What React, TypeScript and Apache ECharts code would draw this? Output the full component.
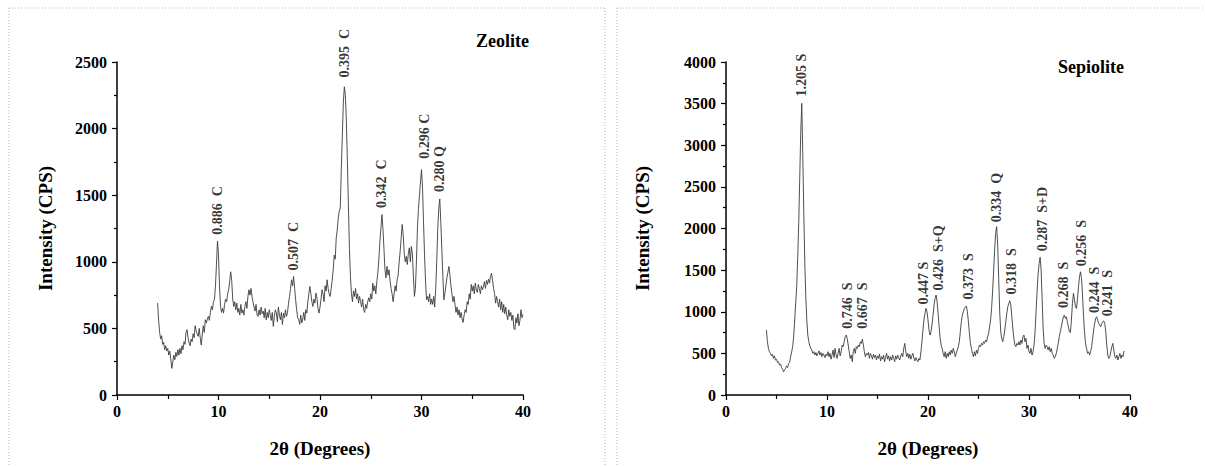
import React, { useEffect, useRef } from "react";
import * as echarts from "echarts";

// 2θ sampling grid (degrees)
const ZEOLITE_START = 4.0;
const SEPIOLITE_START = 4.0;
const STEP = 0.1;

// Zeolite intensity (CPS), one row per degree: 4.0 .. 40.0
const zeoliteIntensity = [
  690, 560, 470, 420, 445, 380, 395, 340, 370, 330,
  350, 300, 330, 270, 200, 250, 300, 265, 320, 290,
  340, 300, 350, 310, 370, 340, 400, 380, 470, 490,
  430, 390, 370, 420, 400, 460, 430, 520, 480, 460,
  440, 500, 430, 375, 450, 520, 470, 565, 540, 570,
  590, 560, 620, 665, 640, 700, 715, 820, 980, 1155,
  1050, 820, 665, 620, 650, 615, 680, 720, 700, 760,
  790, 850, 925, 860, 720, 665, 700, 640, 690, 620,
  650, 600, 680, 615, 640, 600, 665, 700, 650, 740,
  790, 750, 800, 740, 700, 660, 630, 680, 600, 590,
  640, 600, 660, 610, 630, 580, 650, 565, 620, 580,
  640, 600, 560, 620, 515, 590, 640, 615, 550, 660,
  600, 565, 620, 530, 615, 580, 640, 590, 620, 690,
  740, 800, 865, 820, 890, 800, 715, 640, 580, 565,
  530, 600, 540, 570, 620, 560, 640, 615, 700, 760,
  815, 760, 700, 665, 720, 690, 765, 730, 650, 615,
  660, 720, 790, 760, 700, 820, 780, 865, 800, 760,
  740, 800, 860, 940, 1050, 1020, 1180, 1240, 1330, 1380,
  1405, 1700, 1950, 2200, 2314, 2250, 2050, 1750, 1420, 1100,
  890, 760, 700, 780, 740, 800, 720, 760, 690, 740,
  700, 660, 720, 640, 620, 680, 650, 700, 730, 700,
  760, 720, 840, 780, 820, 760, 850, 920, 1020, 1150,
  1250, 1354, 1250, 1100, 940, 880, 965, 900, 940, 860,
  800, 760, 700, 760, 820, 780, 865, 900, 1000, 1080,
  1180, 1280, 1200, 1060, 1000, 1040, 980, 1060, 1105, 1000,
  1115, 1060, 900, 740, 800, 1000, 1255, 1400, 1500, 1600,
  1692, 1560, 1300, 1050, 850, 715, 740, 700, 760, 680,
  720, 680, 740, 660, 800, 1000, 1250, 1400, 1472, 1300,
  1100, 900, 715, 760, 820, 880, 920, 965, 900, 820,
  760, 700, 740, 680, 620, 660, 600, 640, 580, 620,
  570, 545, 600, 640, 620, 700, 680, 760, 720, 830,
  780, 820, 760, 840, 790, 770, 830, 800, 760, 820,
  790, 815, 850, 800, 860, 830, 870, 840, 890, 915,
  860, 800, 760, 690, 740, 700, 660, 720, 640, 700,
  620, 680, 610, 660, 600, 565, 640, 590, 620, 560,
  600, 500, 490, 580, 540, 610, 520, 560, 640, 580,
  605,
];

// Sepiolite intensity (CPS), one row per degree: 4.0 .. 39.4
const sepioliteIntensity = [
  782, 640, 560, 520, 500, 470, 490, 440, 470, 420,
  430, 390, 400, 360, 370, 330, 310, 280, 300, 320,
  350, 330, 380, 390, 460, 520, 580, 700, 900, 1100,
  1300, 1650, 2060, 2600, 3150, 3503, 2900, 2200, 1600, 1180,
  900, 720, 640, 590, 560, 540, 500, 520, 480, 510,
  470, 500, 530, 480, 510, 460, 500, 480, 450, 490,
  470, 520, 460, 500, 430, 480, 540, 450, 560, 480,
  440, 500, 560, 470, 520, 600, 580, 640, 700, 720,
  680, 600, 520, 440, 480, 400, 520, 560, 500, 580,
  560, 600, 580, 640, 620, 670, 600, 520, 460, 500,
  480, 510, 440, 500, 470, 430, 490, 450, 480, 420,
  470, 440, 490, 410, 460, 430, 480, 400, 450, 500,
  430, 470, 410, 460, 420, 480, 440, 400, 470, 430,
  480, 450, 420, 470, 500, 460, 560, 620, 520, 460,
  500, 440, 490, 430, 470, 500, 440, 410, 450, 420,
  400, 440, 420, 520, 640, 780, 900, 980, 1041, 1000,
  900, 780, 720, 760, 850, 960, 1080, 1160, 1201, 1120,
  980, 820, 680, 600, 560, 500, 460, 520, 440, 500,
  460, 520, 480, 540, 500, 560, 520, 460, 500, 540,
  580, 640, 760, 880, 960, 1000, 1040, 1060, 1068, 1000,
  880, 740, 620, 560, 500, 460, 520, 470, 540, 500,
  560, 600, 580, 620, 600, 640, 620, 660, 640, 700,
  740, 820, 900, 1050, 1250, 1500, 1750, 1950, 2022, 1800,
  1400, 1000, 760, 680, 640, 700, 780, 880, 980, 1060,
  1100, 1132, 1080, 940, 800, 680, 600, 580, 620, 600,
  640, 600, 660, 620, 700, 720, 640, 680, 560, 600,
  520, 500, 560, 480, 520, 600, 760, 1000, 1250, 1450,
  1580, 1654, 1500, 1150, 800, 620, 560, 600, 580, 540,
  580, 520, 560, 500, 480, 440, 460, 500, 560, 620,
  700, 760, 820, 880, 940, 960, 920, 940, 880, 820,
  760, 750, 900, 1100, 1222, 1150, 1060, 1040, 1150, 1300,
  1420, 1480, 1400, 1200, 950, 750, 620, 560, 500, 520,
  480, 520, 580, 680, 780, 860, 920, 940, 900, 860,
  840, 820, 860, 880, 890, 860, 760, 600, 480, 440,
  460, 520, 580, 620, 540, 460, 440, 480, 420, 460,
  500, 440, 480, 460, 530,
];

// Peak annotations: [2θ, intensity at label base, text]
const zeoliteLabels: [number, number, string][] = [
  [9.9, 1200, "0.886  C"],
  [17.4, 930, "0.507  C"],
  [22.4, 2380, "0.395  C"],
  [26.05, 1400, "0.342  C"],
  [30.3, 1770, "0.296 C"],
  [31.8, 1520, "0.280 Q"],
];

const sepioliteLabels: [number, number, string][] = [
  [7.5, 3580, "1.205 S"],
  [12.0, 790, "0.746  S"],
  [13.5, 790, "0.667  S"],
  [19.6, 1080, "0.447 S"],
  [21.0, 1250, "0.426  S+Q"],
  [24.0, 1140, "0.373  S"],
  [26.8, 2070, "0.334  Q"],
  [28.3, 1200, "0.318  S"],
  [31.35, 1720, "0.287  S+D"],
  [33.45, 1040, "0.268  S"],
  [35.2, 1540, "0.256  S"],
  [36.5, 980, "0.244  S"],
  [37.8, 940, "0.241  S"],
];

const xTitle = "2θ (Degrees)";
const yTitle = "Intensity (CPS)";
const panelTitles = ["Zeolite", "Sepiolite"];

const FONT = "'Liberation Serif', 'Times New Roman', serif";

function toPairs(start: number, values: number[]) {
  return values.map((v, i) => [Number((start + i * STEP).toFixed(2)), v]);
}

export default function App() {
  const ref = useRef<HTMLDivElement>(null);

  useEffect(() => {
    if (!ref.current) return;
    const chart = echarts.init(ref.current, undefined, { renderer: "svg" });

    const grids = [
      { left: 117, top: 62, width: 406, height: 333 },
      { left: 726, top: 62, width: 404, height: 333 },
    ];

    const axisCommon = {
      axisLine: { show: true, onZero: false, lineStyle: { color: "#000", width: 1.5 } },
      splitLine: { show: false },
      axisLabel: {
        fontFamily: FONT,
        fontWeight: "bold",
        fontSize: 16,
        color: "#000",
        formatter: (v: number) => String(v),
      },
      nameTextStyle: { fontFamily: FONT, fontWeight: "bold", fontSize: 19, color: "#000" },
    };

    const xAxes = [0, 1].map((i) => ({
      ...axisCommon,
      type: "value",
      gridIndex: i,
      min: 0,
      max: 40,
      interval: 10,
      name: xTitle,
      nameLocation: "middle",
      nameGap: 44,
      axisTick: { show: true, length: 5, lineStyle: { color: "#000", width: 1.2 } },
      minorTick: { show: true, splitNumber: 2, length: 4, lineStyle: { color: "#000", width: 1.2 } },
      axisLabel: { ...axisCommon.axisLabel, margin: 8 },
    }));

    const yAxes = [2500, 4000].map((max, i) => ({
      ...axisCommon,
      type: "value",
      gridIndex: i,
      min: 0,
      max,
      interval: 500,
      name: yTitle,
      nameLocation: "middle",
      nameGap: i === 0 ? 62 : 74,
      axisTick: { show: true, length: 5, lineStyle: { color: "#000", width: 1.2 } },
      minorTick: { show: true, splitNumber: 2, length: 3, lineStyle: { color: "#000", width: 1.2 } },
      axisLabel: { ...axisCommon.axisLabel, margin: 10 },
    }));

    const lineSeries = (idx: number, data: number[][]) => ({
      type: "line",
      xAxisIndex: idx,
      yAxisIndex: idx,
      data,
      showSymbol: false,
      symbol: "none",
      lineStyle: { color: "#3c3c3c", width: 0.9 },
      silent: true,
    });

    const labelSeries = (idx: number, labels: [number, number, string][]) => ({
      type: "scatter",
      xAxisIndex: idx,
      yAxisIndex: idx,
      symbolSize: 1,
      itemStyle: { color: "rgba(0,0,0,0)" },
      silent: true,
      z: 5,
      data: labels.map((l) => ({ value: [l[0], l[1]], label: { formatter: l[2] } })),
      label: {
        show: true,
        position: "top",
        distance: 0,
        rotate: 90,
        align: "left",
        verticalAlign: "middle",
        fontFamily: FONT,
        fontWeight: "bold",
        fontSize: 14,
        color: "#000",
      },
    });

    const dotted = { stroke: "#b5b5b5", lineWidth: 1, lineDash: [1, 2] };

    chart.setOption({
      animation: false,
      backgroundColor: "#fff",
      grid: grids,
      xAxis: xAxes,
      yAxis: yAxes,
      series: [
        lineSeries(0, toPairs(ZEOLITE_START, zeoliteIntensity)),
        lineSeries(1, toPairs(SEPIOLITE_START, sepioliteIntensity)),
        labelSeries(0, zeoliteLabels),
        labelSeries(1, sepioliteLabels),
      ],
      graphic: [
        { type: "line", shape: { x1: 9, y1: 8, x2: 605, y2: 8 }, style: dotted, silent: true },
        { type: "line", shape: { x1: 9, y1: 8, x2: 9, y2: 467 }, style: dotted, silent: true },
        { type: "line", shape: { x1: 605, y1: 8, x2: 605, y2: 467 }, style: dotted, silent: true },
        { type: "line", shape: { x1: 617, y1: 8, x2: 1205, y2: 8 }, style: dotted, silent: true },
        { type: "line", shape: { x1: 617, y1: 8, x2: 617, y2: 467 }, style: dotted, silent: true },
        {
          type: "text",
          left: 476,
          top: 32,
          style: { text: panelTitles[0], fontFamily: FONT, fontWeight: "bold", fontSize: 18, fill: "#000" },
        },
        {
          type: "text",
          left: 1058,
          top: 58,
          style: { text: panelTitles[1], fontFamily: FONT, fontWeight: "bold", fontSize: 18, fill: "#000" },
        },
      ],
    });

    return () => chart.dispose();
  }, []);

  return (
    <div
      ref={ref}
      style={{ position: "fixed", left: 0, top: 0, width: 1205, height: 467, background: "#fff" }}
    />
  );
}
